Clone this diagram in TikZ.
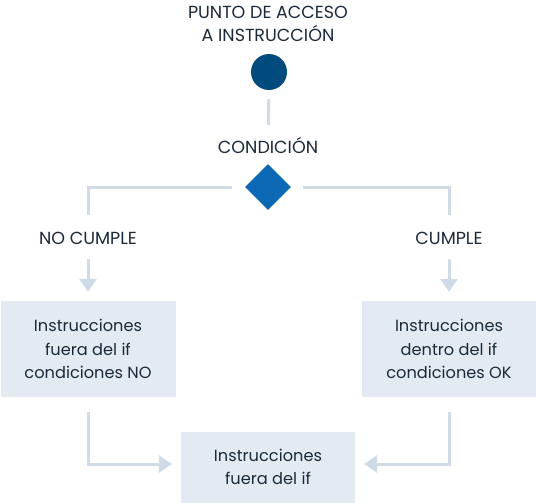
\documentclass[tikz,border=0pt]{standalone}
\usepackage{fontspec}
\setmainfont{Poppins}
\usetikzlibrary{arrows.meta,shapes.geometric}
\definecolor{txt}{HTML}{1B2A3A}
\definecolor{dotc}{HTML}{004B7C}
\definecolor{diac}{HTML}{0A68B4}
\definecolor{linec}{HTML}{CFDCE7}
\definecolor{boxc}{HTML}{E3EAF1}
\tikzset{
  lbl/.style={text=txt, font=\fontsize{17.5}{23}\selectfont, align=center, inner sep=0pt},
  conn/.style={draw=linec, line width=3pt},
  arr/.style={conn, -{Triangle[width=17pt,length=13pt]}},
  box/.style={fill=boxc, minimum width=175pt, minimum height=96pt, text=txt, font=\fontsize{16.2}{23.5}\selectfont, align=center, inner sep=0pt},
}
\begin{document}
\begin{tikzpicture}[x=1pt,y=-1pt]
\useasboundingbox (0,0) rectangle (536,503);
\node[lbl] (title) at (268,23.5) {PUNTO DE ACCESO\\A INSTRUCCIÓN};
\node[circle, fill=dotc, minimum size=36pt, inner sep=0pt] (start) at (269,72) {};
\node[lbl] (condlbl) at (268,145.5) {CONDICIÓN};
\node[diamond, fill=diac, minimum width=46pt, minimum height=46pt, inner sep=0pt] (cond) at (268,187) {};
\node[lbl] (nolbl) at (88,238) {NO CUMPLE};
\node[lbl] (silbl) at (449,238) {CUMPLE};
\node[box] (leftbox) at (88,349) {Instrucciones\\fuera del if\\condiciones NO};
\node[box] (rightbox) at (449,349) {Instrucciones\\dentro del if\\condiciones OK};
\node[box, minimum width=174pt, minimum height=71pt] (bottom) at (268,467) {Instrucciones\\fuera del if};
\draw[conn, shorten <=9pt] (start.south) -- (condlbl.north) [shorten >=12pt];
\draw[conn, shorten <=13pt, shorten >=23pt] (cond.west) -| (nolbl.center);
\draw[conn, shorten <=12pt, shorten >=23pt] (cond.east) -| (silbl.center);
\draw[arr, shorten <=21pt, shorten >=9pt] (nolbl.center) -- (leftbox.north);
\draw[arr, shorten <=21pt, shorten >=9pt] (silbl.center) -- (rightbox.north);
\draw[arr, shorten <=15pt, shorten >=9pt] (leftbox.south) |- ([yshift=3pt]bottom.west);
\draw[arr, shorten <=15pt, shorten >=9pt] (rightbox.south) |- ([yshift=3pt]bottom.east);
\end{tikzpicture}
\end{document}
